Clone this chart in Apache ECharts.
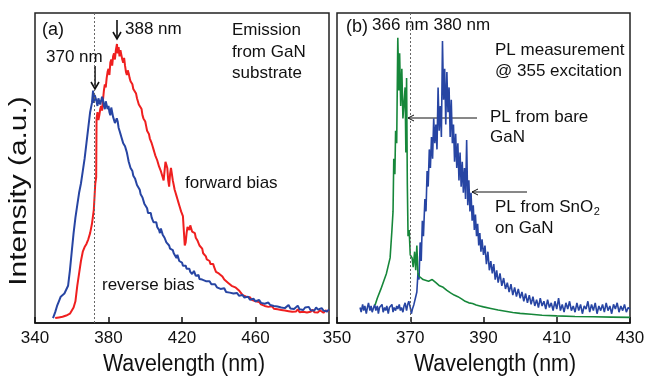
<!DOCTYPE html>
<html><head><meta charset="utf-8">
<script src="https://cdn.jsdelivr.net/npm/echarts@6/dist/echarts.min.js"></script>
<style>html,body{margin:0;padding:0;background:#fff}#c{width:649px;height:377px}</style>
</head><body><div id="c"></div>
<script>
const FONT = '"Liberation Sans", Arial, sans-serif';

// Panel (a): electroluminescence, [wavelength nm, intensity a.u.]
const forwardBias = [
[351,0.016],[352,0.02],[353,0.018],[354,0.022],[355,0.02],[356,0.025],[357,0.024],[358,0.028],[359,0.03],[360,0.035],
[361,0.05],[362,0.07],[363,0.12],[364,0.16],[365,0.2],[366,0.23],[367,0.245],[368,0.255],[369,0.27],[370,0.29],
[371,0.32],[372,0.365],[372.8,0.45],[373.3,0.47],[373.5,0.66],[374,0.68],[374.5,0.655],[375,0.67],[375.5,0.69],[376,0.7],
[376.5,0.685],[377,0.72],[377.5,0.75],[378,0.77],[378.5,0.76],[379,0.79],[379.5,0.81],[380,0.82],[380.5,0.8],[381,0.84],
[381.5,0.85],[382,0.83],[382.5,0.86],[383,0.87],[383.5,0.85],[384,0.88],[384.6,0.9],[385,0.87],[385.5,0.89],[386,0.86],
[386.5,0.88],[387,0.865],[387.5,0.85],[388,0.84],[388.5,0.855],[389,0.83],[389.5,0.81],[390,0.8],[390.5,0.815],[391,0.805],
[391.5,0.79],[392,0.78],[392.5,0.785],[393,0.77],[393.5,0.755],[394,0.75],[394.5,0.755],[395,0.74],[395.5,0.725],[396,0.72],
[396.5,0.705],[397,0.7],[397.5,0.705],[398,0.69],[398.5,0.67],[399,0.66],[399.5,0.665],[400,0.65],[400.5,0.635],[401,0.62],
[401.5,0.625],[402,0.61],[402.5,0.595],[403,0.59],[403.5,0.58],[404,0.57],[404.5,0.56],[405,0.55],[405.5,0.54],[406,0.535],
[406.5,0.525],[407,0.52],[407.5,0.505],[408,0.5],[408.5,0.49],[409,0.48],[409.5,0.47],[410,0.46],[410.5,0.49],[411,0.52],
[411.5,0.51],[412,0.5],[412.5,0.46],[413,0.44],[413.5,0.48],[414,0.5],[414.5,0.48],[415,0.46],[415.5,0.445],[416,0.43],
[416.5,0.42],[417,0.41],[417.5,0.4],[418,0.39],[418.5,0.38],[419,0.37],[419.5,0.36],[420,0.355],[420.5,0.345],[421,0.34],
[421.5,0.25],[422,0.26],[422.5,0.29],[423,0.31],[423.5,0.305],[424,0.3],[424.5,0.315],[425,0.31],[425.5,0.295],[426,0.29],
[426.5,0.3],[427,0.29],[427.5,0.275],[428,0.27],[428.5,0.265],[429,0.26],[429.5,0.25],[430,0.245],[430.5,0.25],[431,0.24],
[431.5,0.225],[432,0.22],[432.5,0.225],[433,0.215],[433.5,0.205],[434,0.21],[434.5,0.2],[435,0.2],[435.5,0.19],[436,0.195],
[436.5,0.185],[437,0.19],[437.5,0.18],[438,0.175],[438.5,0.165],[439,0.17],[439.5,0.16],[440,0.16],[441,0.155],[442,0.15],
[443,0.14],[444,0.145],[445,0.13],[446,0.135],[447,0.12],[448,0.125],[449,0.115],[450,0.11],[451,0.105],[452,0.1],
[453,0.09],[454,0.092],[455,0.085],[456,0.08],[457,0.083],[458,0.075],[459,0.072],[460,0.07],[461,0.066],[462,0.068],
[463,0.06],[464,0.062],[465,0.055],[466,0.058],[467,0.052],[468,0.05],[469,0.054],[470,0.046],[471,0.05],[472,0.044],
[473,0.048],[474,0.042],[475,0.046],[476,0.04],[477,0.044],[478,0.038],[479,0.043],[480,0.036],[481,0.042],[482,0.037],
[483,0.044],[484,0.035],[485,0.04],[486,0.036],[487,0.042],[488,0.034],[489,0.039],[490,0.036],[491,0.043],[492,0.035],
[493,0.04],[494,0.034],[495,0.041],[496,0.036],[497,0.033],[498,0.04],[499,0.035],[500,0.038]
];
const reverseBias = [
[349.8,0.016],[351,0.035],[352,0.055],[353,0.07],[354,0.085],[355,0.09],[356,0.095],[357,0.1],[358,0.12],[359,0.17],
[360,0.23],[361,0.29],[362,0.34],[363,0.38],[364,0.42],[365,0.45],[366,0.49],[367,0.53],[368,0.58],[369,0.63],
[370,0.68],[371,0.71],[371.6,0.75],[372,0.71],[372.5,0.735],[373,0.74],[373.5,0.715],[374,0.7],[374.5,0.725],[375,0.73],
[375.5,0.705],[376,0.71],[376.5,0.73],[377,0.72],[377.5,0.7],[378,0.69],[378.5,0.715],[379,0.71],[379.5,0.69],[380,0.7],
[380.5,0.68],[381,0.67],[381.5,0.695],[382,0.69],[382.5,0.665],[383,0.66],[383.5,0.645],[384,0.64],[384.5,0.66],[385,0.65],
[385.5,0.63],[386,0.62],[386.5,0.61],[387,0.6],[387.5,0.59],[388,0.58],[388.5,0.585],[389,0.57],[389.5,0.56],[390,0.55],
[390.5,0.535],[391,0.52],[391.5,0.515],[392,0.5],[392.5,0.505],[393,0.49],[393.5,0.475],[394,0.47],[394.5,0.465],[395,0.46],
[395.5,0.445],[396,0.44],[396.5,0.44],[397,0.43],[397.5,0.415],[398,0.41],[398.5,0.405],[399,0.4],[399.5,0.385],[400,0.38],
[400.5,0.38],[401,0.37],[401.5,0.355],[402,0.35],[402.5,0.36],[403,0.355],[403.5,0.34],[404,0.34],[404.5,0.325],[405,0.32],
[405.5,0.33],[406,0.325],[406.5,0.31],[407,0.31],[407.5,0.3],[408,0.29],[408.5,0.305],[409,0.3],[409.5,0.285],[410,0.28],
[410.5,0.275],[411,0.27],[411.5,0.26],[412,0.26],[412.5,0.255],[413,0.25],[413.5,0.24],[414,0.245],[414.5,0.235],[415,0.235],
[415.5,0.225],[416,0.22],[416.5,0.22],[417,0.21],[417.5,0.22],[418,0.215],[418.5,0.2],[419,0.2],[419.5,0.2],[420,0.195],
[420.5,0.185],[421,0.19],[421.5,0.182],[422,0.185],[422.5,0.175],[423,0.18],[423.5,0.17],[424,0.175],[424.5,0.165],[425,0.17],
[425.5,0.158],[426,0.16],[426.5,0.168],[427,0.165],[427.5,0.152],[428,0.15],[428.5,0.158],[429,0.155],[429.5,0.142],[430,0.145],
[431,0.14],[432,0.145],[433,0.135],[434,0.13],[435,0.135],[436,0.125],[437,0.12],[438,0.125],[439,0.115],[440,0.12],
[441,0.11],[442,0.105],[443,0.112],[444,0.1],[445,0.105],[446,0.098],[447,0.1],[448,0.095],[449,0.09],[450,0.097],
[451,0.088],[452,0.085],[453,0.09],[454,0.082],[455,0.078],[456,0.085],[457,0.075],[458,0.072],[459,0.078],[460,0.07],
[461,0.068],[462,0.074],[463,0.065],[464,0.07],[465,0.062],[466,0.06],[467,0.066],[468,0.058],[469,0.062],[470,0.055],
[471,0.06],[472,0.053],[473,0.057],[474,0.05],[475,0.055],[476,0.048],[477,0.052],[478,0.058],[479,0.047],[480,0.052],
[481,0.045],[482,0.05],[483,0.056],[484,0.044],[485,0.049],[486,0.042],[487,0.05],[488,0.045],[489,0.052],[490,0.041],
[491,0.047],[492,0.04],[493,0.05],[494,0.043],[495,0.038],[496,0.048],[497,0.04],[498,0.045],[499,0.037],[500,0.044]
];

// Panel (b): photoluminescence
const bareGaN = [
[360.4,0.058],[361,0.08],[362,0.11],[362.6,0.13],[363.5,0.16],[364.5,0.21],[365,0.3],[365.3,0.36],[365.5,0.53],[365.8,0.48],
[366,0.62],[366.3,0.58],[366.6,0.92],[366.9,0.75],[367.1,0.87],[367.4,0.7],[367.7,0.82],[368,0.66],[368.3,0.71],[368.6,0.76],
[368.8,0.55],[369,0.79],[369.2,0.45],[369.4,0.28],[369.7,0.3],[370,0.22],[370.5,0.21],[370.8,0.18],[371.2,0.23],[371.5,0.17],
[371.8,0.25],[372.1,0.16],[372.5,0.15],[373,0.145],[373.5,0.14],[374,0.14],[375,0.135],[376,0.14],[377,0.13],[377.5,0.135],
[378,0.12],[379,0.115],[380,0.105],[381,0.097],[382,0.09],[383,0.085],[384,0.078],[385,0.07],[386,0.065],[387,0.063],
[388,0.058],[389,0.055],[390,0.052],[392,0.047],[394,0.042],[396,0.038],[398,0.034],[400,0.031],[403,0.028],[406,0.025],
[410,0.023],[415,0.021],[420,0.02],[425,0.019],[430,0.018]
];
const snO2OnGaN = [
[356.3,0.05],[356.6,0.035],[357,0.06],[357.3,0.04],[357.6,0.055],[358,0.03],[358.3,0.05],[358.6,0.065],[359,0.04],[359.3,0.055],
[359.6,0.035],[360,0.05],[360.3,0.06],[360.6,0.04],[361,0.055],[361.3,0.03],[361.6,0.05],[362,0.045],[362.3,0.06],[362.6,0.035],
[363,0.05],[363.3,0.04],[363.6,0.055],[364,0.03],[364.3,0.05],[364.6,0.045],[365,0.06],[365.3,0.035],[365.6,0.05],[366,0.04],
[366.3,0.055],[366.6,0.045],[367,0.06],[367.3,0.04],[367.6,0.05],[368,0.035],[368.3,0.055],[368.6,0.065],[369,0.04],[369.3,0.06],
[369.6,0.07],[370,0.05],[370.3,0.03],[370.6,0.045],[371,0.06],[371.4,0.08],[371.8,0.1],[372.1,0.16],[372.4,0.14],[372.7,0.26],
[373,0.2],[373.3,0.33],[373.6,0.28],[374,0.4],[374.3,0.36],[374.6,0.49],[374.9,0.44],[375.2,0.56],[375.5,0.5],[375.8,0.6],
[376.1,0.53],[376.4,0.66],[376.7,0.58],[377,0.64],[377.3,0.56],[377.6,0.76],[377.9,0.62],[378.2,0.7],[378.5,0.6],[378.8,0.91],
[379.1,0.72],[379.4,0.82],[379.7,0.64],[380,0.81],[380.3,0.68],[380.6,0.76],[380.9,0.6],[381.2,0.72],[381.5,0.58],[381.8,0.64],
[382.1,0.52],[382.4,0.61],[382.7,0.5],[383,0.58],[383.3,0.46],[383.6,0.55],[383.9,0.44],[384.2,0.52],[384.5,0.42],[384.8,0.5],
[385.1,0.4],[385.4,0.59],[385.7,0.38],[386,0.46],[386.3,0.36],[386.6,0.42],[386.9,0.33],[387.2,0.38],[387.5,0.3],[387.8,0.35],
[388.1,0.28],[388.4,0.32],[388.7,0.25],[389,0.29],[389.3,0.23],[389.6,0.27],[390,0.22],[390.4,0.25],[390.8,0.19],[391.2,0.23],
[391.6,0.17],[392,0.2],[392.4,0.16],[392.8,0.19],[393.2,0.14],[393.6,0.17],[394,0.13],[394.5,0.16],[395,0.12],[395.5,0.145],
[396,0.11],[396.5,0.13],[397,0.1],[397.5,0.125],[398,0.09],[398.5,0.115],[399,0.085],[399.5,0.11],[400,0.08],[400.5,0.1],
[401,0.07],[401.5,0.095],[402,0.065],[402.5,0.09],[403,0.06],[403.5,0.085],[404,0.055],[404.5,0.075],[405,0.05],[405.5,0.08],
[406,0.055],[406.5,0.07],[407,0.045],[407.5,0.075],[408,0.05],[408.5,0.065],[409,0.04],[409.5,0.07],[410,0.045],[410.5,0.08],
[411,0.04],[411.5,0.06],[412,0.035],[412.5,0.065],[413,0.045],[413.5,0.07],[414,0.04],[414.5,0.055],[415,0.035],[415.5,0.065],
[416,0.04],[416.5,0.06],[417,0.03],[417.5,0.055],[418,0.045],[418.5,0.07],[419,0.035],[419.5,0.06],[420,0.04],[420.5,0.065],
[421,0.03],[421.5,0.055],[422,0.04],[422.5,0.06],[423,0.035],[423.5,0.065],[424,0.04],[424.5,0.055],[425,0.03],[425.5,0.06],
[426,0.045],[426.5,0.065],[427,0.035],[427.5,0.055],[428,0.04],[428.5,0.06],[429,0.035],[429.5,0.05],[430,0.045]
];

const markA = 372.5, markB = 370;
const axisA = {min: 340, max: 500, step: 40};
const axisB = {min: 350, max: 430, step: 20};

const RED = '#ef1f1f', BLUE = '#2745a3', GREEN = '#16873a', INK = '#111';

const chart = echarts.init(document.getElementById('c'), null, {renderer: 'canvas'});

function xAx(idx, a, hideMax) {
  return {
    type: 'value', gridIndex: idx, min: a.min, max: a.max, interval: a.step,
    axisLine: {show: true, lineStyle: {color: INK, width: 1.5}},
    axisTick: {show: true, inside: true, length: 6, lineStyle: {color: INK, width: 1.5}},
    axisLabel: {fontFamily: FONT, fontSize: 17, color: INK, margin: 7, showMaxLabel: !hideMax},
    splitLine: {show: false}
  };
}
function yAx(idx) {
  return {type: 'value', gridIndex: idx, min: 0, max: 1,
    axisLine: {show: false}, axisTick: {show: false}, axisLabel: {show: false}, splitLine: {show: false}};
}
function mark(v) {
  return {silent: true, symbol: 'none', animation: false, label: {show: false},
    lineStyle: {type: [2, 2], color: '#666', width: 1}, data: [{xAxis: v}]};
}
function ln(name, data, xi, color, w, z, ml) {
  const s = {type: 'line', name, data, xAxisIndex: xi, yAxisIndex: xi, showSymbol: false, symbol: 'none',
    lineStyle: {color, width: w}, itemStyle: {color}, z, animation: false, silent: true};
  if (ml !== undefined) s.markLine = mark(ml);
  return s;
}
function t(x, y, text, size, extra) {
  return Object.assign({type: 'text', x, y, silent: true,
    style: {text, font: size + 'px ' + FONT, fill: INK, align: 'left', verticalAlign: 'middle'}}, extra || {});
}
function seg(pts, w) {
  return {type: 'polyline', silent: true, shape: {points: pts}, style: {stroke: INK, lineWidth: w, fill: null}};
}

const ctx = document.createElement('canvas').getContext('2d');
ctx.font = '17px ' + FONT;
const snoW = ctx.measureText('PL from SnO').width;

const graphics = [
  t(20, 191, 'Intensity (a.u.)', 23, {rotation: Math.PI / 2, scaleX: 1.3, style: {text: 'Intensity (a.u.)', font: '23px ' + FONT, fill: INK, align: 'center', verticalAlign: 'middle'}}),
  t(184, 365, 'Wavelength (nm)', 23, {scaleX: 0.93, style: {text: 'Wavelength (nm)', font: '23px ' + FONT, fill: INK, align: 'center', verticalAlign: 'middle'}}),
  t(495, 365, 'Wavelength (nm)', 23, {scaleX: 0.93, style: {text: 'Wavelength (nm)', font: '23px ' + FONT, fill: INK, align: 'center', verticalAlign: 'middle'}}),
  t(42, 30, '(a)', 18),
  t(125, 29, '388 nm', 17),
  t(46, 57, '370 nm', 17),
  t(232, 30, 'Emission', 17),
  t(232, 52, 'from GaN', 17),
  t(232, 73, 'substrate', 17),
  t(185, 183, 'forward bias', 17),
  t(102, 285, 'reverse bias', 17),
  t(346, 27, '(b)', 18),
  t(372, 25, '366 nm 380 nm', 17),
  t(495, 50, 'PL measurement', 17),
  t(495, 71, '@ 355 excitation', 17),
  t(490, 117, 'PL from bare', 17),
  t(490, 137, 'GaN', 17),
  t(495, 207, 'PL from SnO', 17),
  t(495 + snoW + 0.5, 212, '2', 11),
  t(495, 228, 'on GaN', 17),
  seg([[117, 20], [117, 39]], 1.6),
  seg([[113, 32], [117, 39], [121, 32]], 1.6),
  seg([[95, 66], [95, 89]], 1.6),
  seg([[91, 82], [95, 89], [99, 82]], 1.6),
  seg([[477, 118], [408, 118]], 1),
  seg([[414, 115], [408, 118], [414, 121]], 1),
  seg([[527, 192], [472, 192]], 1),
  seg([[478, 189], [472, 192], [478, 195]], 1)
];

chart.setOption({
  animation: false,
  backgroundColor: '#fff',
  grid: [
    {left: 35, top: 13, width: 294, height: 310, show: true, borderColor: '#222', borderWidth: 1.5, backgroundColor: 'transparent'},
    {left: 337, top: 13, width: 293, height: 310, show: true, borderColor: '#222', borderWidth: 1.5, backgroundColor: 'transparent'}
  ],
  xAxis: [xAx(0, axisA, true), xAx(1, axisB, false)],
  yAxis: [yAx(0), yAx(1)],
  series: [
    ln('forward bias', forwardBias, 0, RED, 2, 2, markA),
    ln('reverse bias', reverseBias, 0, BLUE, 2, 3),
    ln('PL from SnO2 on GaN', snO2OnGaN, 1, BLUE, 1.6, 2, markB),
    ln('PL from bare GaN', bareGaN, 1, GREEN, 1.6, 3)
  ],
  graphic: graphics
});
</script></body></html>
